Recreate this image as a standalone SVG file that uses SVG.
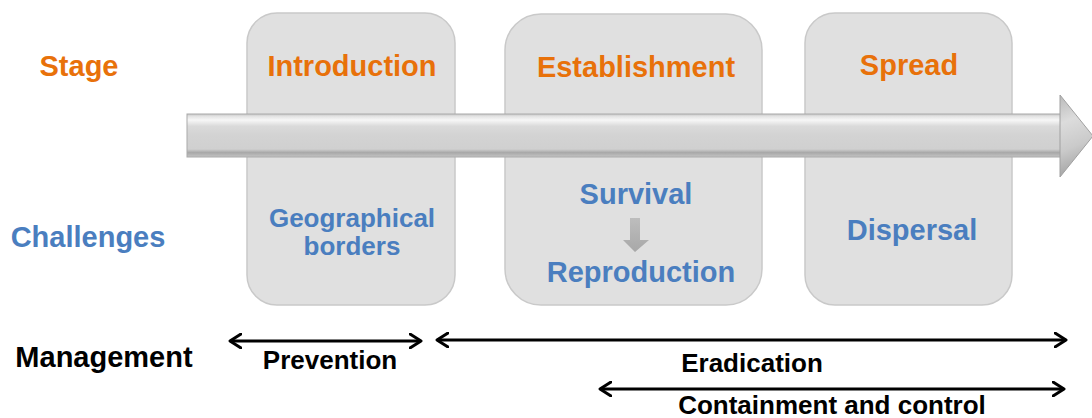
<svg xmlns="http://www.w3.org/2000/svg" width="1092" height="418" viewBox="0 0 1092 418">
<style>
text{font-family:"Liberation Sans",Arial,sans-serif;font-weight:bold;text-anchor:middle}
.org{fill:#E8710A;font-size:29px}
.blu{fill:#4A7EBF;font-size:29px}
.blu26{fill:#4A7EBF;font-size:26px}
.blk{fill:#000;font-size:26px}
.box{fill:#E0E0E0;stroke:#C9C9C9;stroke-width:1.5}
.conn{stroke:#000;stroke-width:3;fill:none}
</style>
<defs>
<linearGradient id="shaft" gradientUnits="userSpaceOnUse" x1="0" y1="113" x2="0" y2="157">
<stop offset="0" stop-color="#bdbdbd"/>
<stop offset="0.08" stop-color="#e4e4e4"/>
<stop offset="0.16" stop-color="#f7f7f7"/>
<stop offset="0.3" stop-color="#dadada"/>
<stop offset="0.5" stop-color="#d3d3d3"/>
<stop offset="0.82" stop-color="#d0d0d0"/>
<stop offset="0.9" stop-color="#a8a8a8"/>
<stop offset="1" stop-color="#c4c4c4"/>
</linearGradient>
<linearGradient id="head" gradientUnits="userSpaceOnUse" x1="1060" y1="95" x2="1093" y2="177">
<stop offset="0" stop-color="#bababa"/>
<stop offset="0.3" stop-color="#dcdcdc"/>
<stop offset="0.6" stop-color="#cacaca"/>
<stop offset="1" stop-color="#949494"/>
</linearGradient>
<linearGradient id="down" x1="0" y1="0" x2="0" y2="1">
<stop offset="0" stop-color="#bdbdbd"/>
<stop offset="1" stop-color="#a8a8a8"/>
</linearGradient>
<marker id="ah" viewBox="0 0 14 16" refX="12" refY="8" markerWidth="14" markerHeight="16" markerUnits="userSpaceOnUse" orient="auto-start-reverse">
<path d="M1,1 L12,8 L1,15" fill="none" stroke="#000" stroke-width="3" stroke-linecap="round" stroke-linejoin="round"/>
</marker>
</defs>

<g id="node-introduction">
<rect class="box" x="247" y="13" width="208" height="292" rx="30"/>
<text class="org" x="352" y="76">Introduction</text>
<text class="blu26" x="352" y="227">Geographical</text>
<text class="blu26" x="352" y="255">borders</text>
</g>
<g id="node-establishment">
<rect class="box" x="505" y="14" width="257" height="291" rx="36"/>
<text class="org" x="636" y="77">Establishment</text>
<text class="blu" x="636" y="204">Survival</text>
<path d="M630,218 H640 V240 H649 L635,252 L623,240 H630 Z" fill="url(#down)"/>
<text class="blu" x="641" y="282">Reproduction</text>
</g>
<g id="node-spread">
<rect class="box" x="805" y="13" width="207" height="292" rx="30"/>
<text class="org" x="909" y="75">Spread</text>
<text class="blu" x="912" y="240">Dispersal</text>
</g>

<g id="timeline-arrow">
<rect x="187" y="114" width="875" height="43" fill="url(#shaft)" stroke="#a9a9a9" stroke-width="1"/>
<path d="M1060,95 L1093,136 L1060,177 Z" fill="url(#head)" stroke="#a0a0a0" stroke-width="1"/>
</g>

<g id="labels">
<text class="org" x="79" y="76">Stage</text>
<text class="blu" x="88" y="247">Challenges</text>
<text class="blk" x="104" y="367" style="font-size:29px">Management</text>
</g>

<g id="connectors">
<line class="conn" x1="230" y1="341" x2="421" y2="341" marker-start="url(#ah)" marker-end="url(#ah)"/>
<line class="conn" x1="437" y1="340" x2="1066" y2="340" marker-start="url(#ah)" marker-end="url(#ah)"/>
<line class="conn" x1="600" y1="389" x2="1064" y2="389" marker-start="url(#ah)" marker-end="url(#ah)"/>
</g>
<g id="management-labels">
<text class="blk" x="330" y="369">Prevention</text>
<text class="blk" x="752" y="372">Eradication</text>
<text class="blk" x="832" y="414">Containment and control</text>
</g>
</svg>
